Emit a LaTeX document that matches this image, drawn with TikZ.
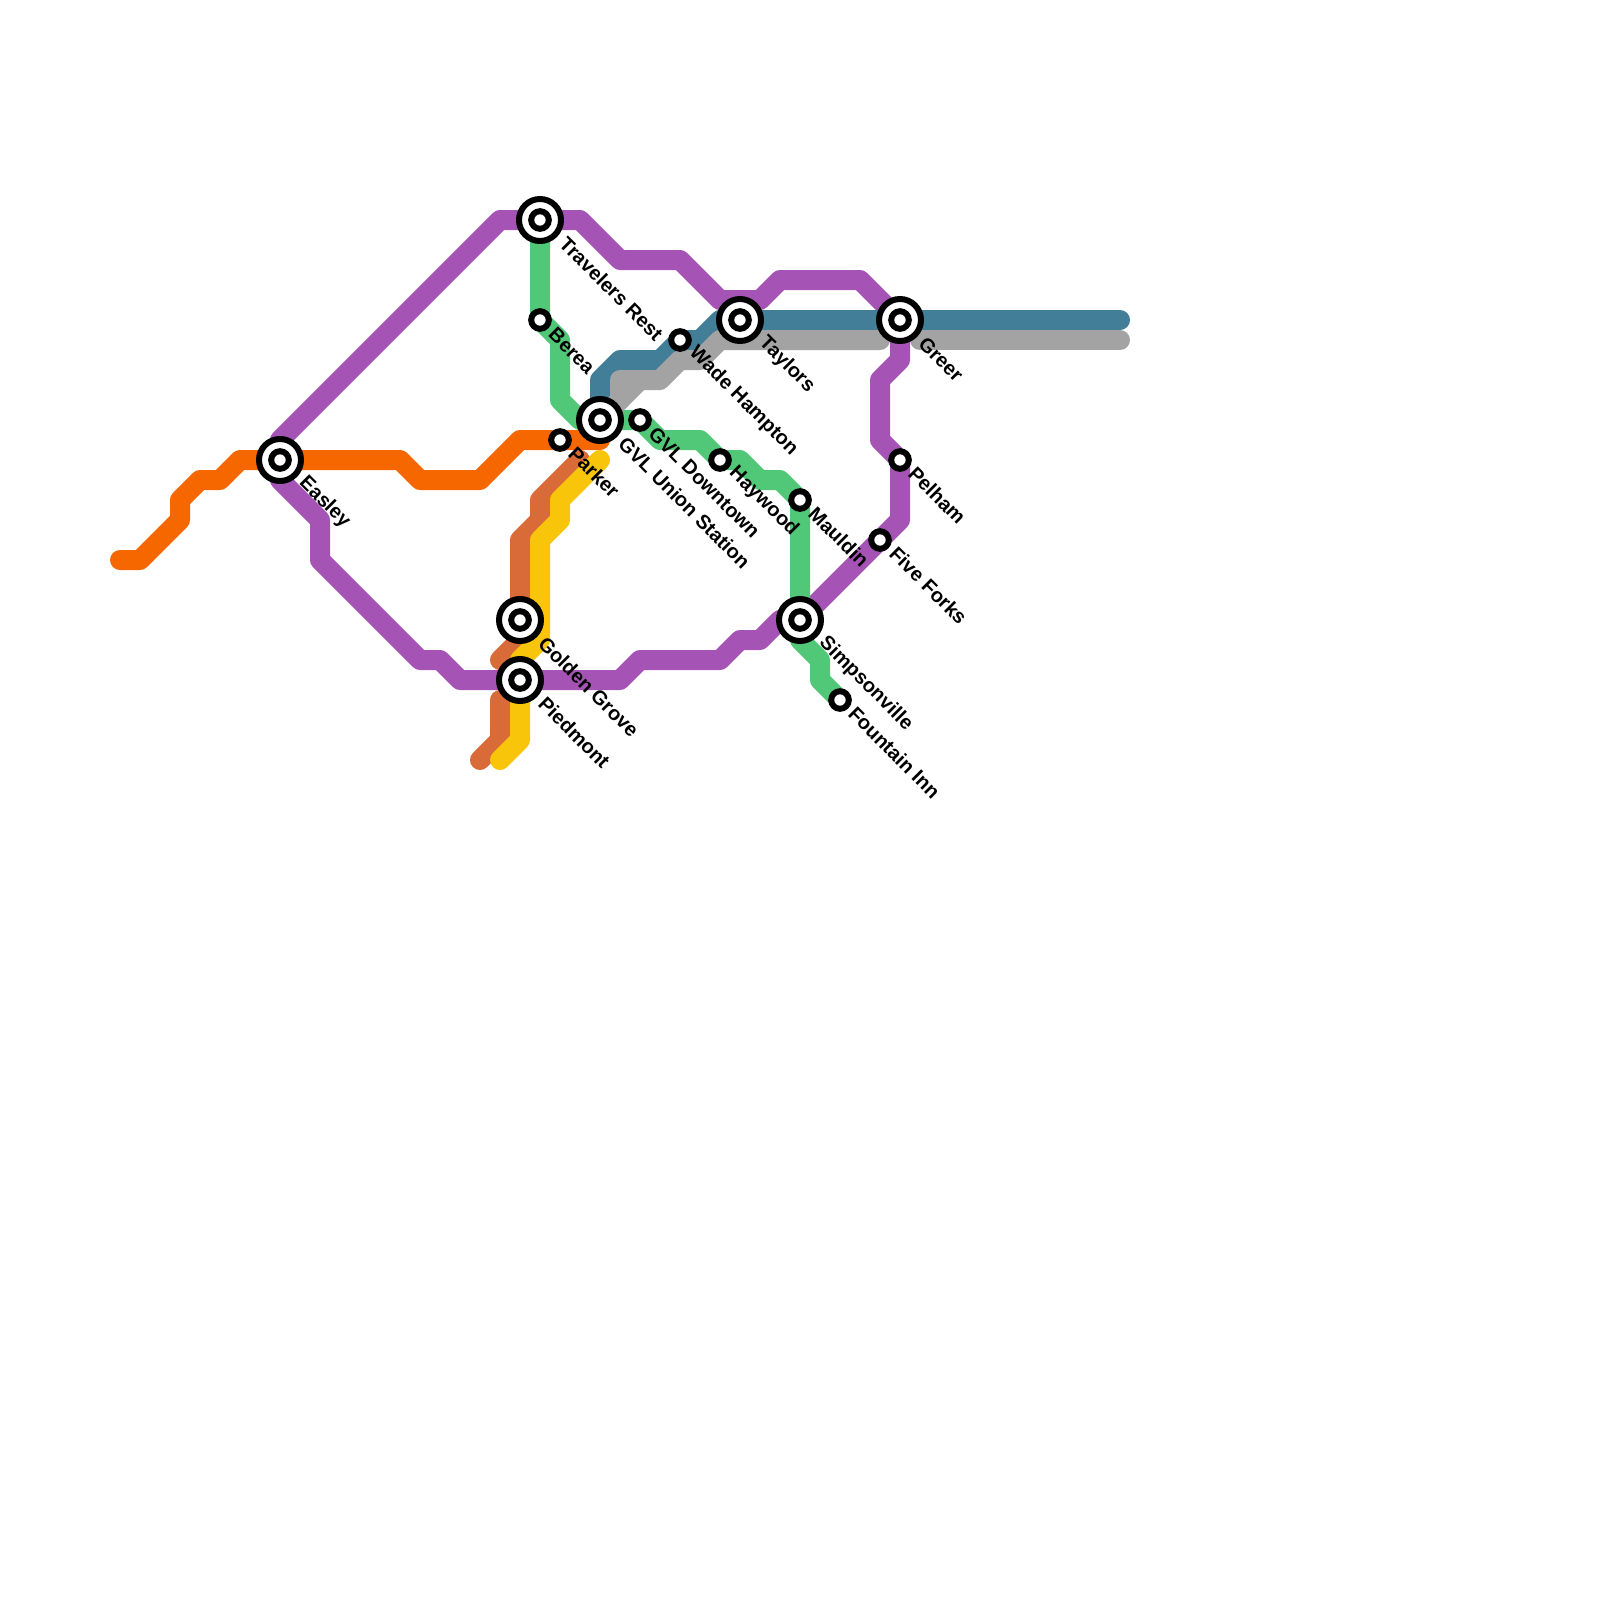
\documentclass[tikz,border=0pt]{standalone}
\usepackage{fontspec}
\setmainfont{Liberation Sans}
\usetikzlibrary{backgrounds}

\definecolor{linepurple}{HTML}{A554B5}
\definecolor{lineorange}{HTML}{F76700}
\definecolor{linegreen}{HTML}{51C878}
\definecolor{lineblue}{HTML}{437E99}
\definecolor{linegrey}{HTML}{A3A3A3}
\definecolor{linebrown}{HTML}{D96B38}
\definecolor{lineyellow}{HTML}{F9C50A}

\newcommand*{\xmin}{0}
\newcommand*{\xmax}{80}
\newcommand*{\ymin}{0}
\newcommand*{\ymax}{80}

\begin{document}
\begin{tikzpicture}
[
	x=0.5cm,y=-0.5cm,
	metroline/.style={line width=0.5cm,line join=round,line cap=round},
	stn/.style={circle,draw=black,fill=white,inner sep=0pt,minimum size=0.44cm,line width=0.15cm},
	bigring/.style={circle,draw=black,fill=white,inner sep=0pt,minimum size=1.05cm,line width=0.15cm},
	stnlabel/.style={rotate=-45,anchor=west,inner sep=0pt,font=\bfseries\fontsize{14.2}{16}\selectfont}
]

	\useasboundingbox (\xmin,\ymin) rectangle (\xmax,\ymax);

	% big stations
	\node[bigring] at (14,23) (easleyring) {};
	\node[stn] at (14,23) (easley) {};
	\node[bigring] at (27,11) (travelersring) {};
	\node[stn] at (27,11) (travelers) {};
	\node[bigring] at (30,21) (unionring) {};
	\node[stn] at (30,21) (union) {};
	\node[bigring] at (37,16) (taylorsring) {};
	\node[stn] at (37,16) (taylors) {};
	\node[bigring] at (45,16) (greerring) {};
	\node[stn] at (45,16) (greer) {};
	\node[bigring] at (40,31) (simpsonring) {};
	\node[stn] at (40,31) (simpson) {};
	\node[bigring] at (26,31) (goldenring) {};
	\node[stn] at (26,31) (golden) {};
	\node[bigring] at (26,34) (piedmontring) {};
	\node[stn] at (26,34) (piedmont) {};

	% small stations
	\node[stn] at (27,16) (berea) {};
	\node[stn] at (28,22) (parker) {};
	\node[stn] at (32,21) (downtown) {};
	\node[stn] at (34,17) (wade) {};
	\node[stn] at (36,23) (haywood) {};
	\node[stn] at (40,25) (mauldin) {};
	\node[stn] at (42,35) (fountain) {};
	\node[stn] at (44,27) (fiveforks) {};
	\node[stn] at (45,23) (pelham) {};

	% line ends
	\coordinate (bluestop) at (56,16);
	\coordinate (greystop) at (56,17);

	% labels
	\node[stnlabel] at (15.1,24) (easleytext) {Easley};
	\node[stnlabel] at (28.15,12) (travelerstext) {Travelers Rest};
	\node[stnlabel] at (31.1,22) (uniontext) {GVL Union Station};
	\node[stnlabel] at (38.1,17) (taylorstext) {Taylors};
	\node[stnlabel] at (46.1,17) (greertext) {Greer};
	\node[stnlabel] at (41.1,32) (simpsontext) {Simpsonville};
	\node[stnlabel] at (27.1,32) (goldentext) {Golden Grove};
	\node[stnlabel] at (27.1,35) (piedmonttext) {Piedmont};
	\node[stnlabel] at (27.6,16.55) (bereatext) {Berea};
	\node[stnlabel] at (28.6,22.5) (parkertext) {Parker};
	\node[stnlabel] at (32.6,21.5) (downtowntext) {GVL Downtown};
	\node[stnlabel] at (34.6,17.5) (wadetext) {Wade Hampton};
	\node[stnlabel] at (36.6,23.5) (haywoodtext) {Haywood};
	\node[stnlabel] at (40.6,25.5) (mauldintext) {Mauldin};
	\node[stnlabel] at (42.6,35.5) (fountaintext) {Fountain Inn};
	\node[stnlabel] at (44.65,27.5) (fiveforkstext) {Five Forks};
	\node[stnlabel] at (45.6,23.5) (pelhamtext) {Pelham};

	% lines
	\begin{pgfonlayer}{background}
		\draw[metroline,linepurple] (easley.center) -- (14,22) -- (25,11) -- (travelers.center) -- (29,11) -- (31,13) -- (34,13) -- (36,15) -- (38,15) -- (39,14) -- (43,14) -- (greer.center) -- (45,18) -- (44,19) -- (44,22) -- (pelham.center) -- (45,26) -- (fiveforks.center) -- (simpson.center) -- (39,31) -- (38,32) -- (37,32) -- (36,33) -- (32,33) -- (31,34) -- (piedmont.center) -- (23,34) -- (22,33) -- (21,33) -- (16,28) -- (16,26) -- (14,24) -- cycle;
		\draw[metroline,lineorange] (6,28) -- (7,28) -- (9,26) -- (9,25) -- (10,24) -- (11,24) -- (12,23) -- (easley.center) -- (20,23) -- (21,24) -- (24,24) -- (26,22) -- (parker.center) -- (30,22);
		\draw[metroline,linebrown] (29,23) -- (27,25) -- (27,26) -- (26,27) -- (golden.center) -- (26,32) -- (25,33);
		\draw[metroline,linebrown] (25,35) -- (25,37) -- (24,38);
		\draw[metroline,lineyellow] (30,23) -- (28,25) -- (28,26) -- (27,27) -- (27,32) -- (26,33) -- (piedmont.center) -- (26,37) -- (25,38);
		\draw[metroline,linegreen] (travelers.center) -- (berea.center) -- (28,17) -- (28,20) -- (29,21) -- (union.center) -- (downtown.center) -- (33,22) -- (35,22) -- (haywood.center) -- (37,23) -- (38,24) -- (39,24) -- (mauldin.center) -- (simpson.center) -- (40,32) -- (41,33) -- (41,34) -- (fountain.center);
		\draw[metroline,lineblue] (union.center) -- (30,19) -- (31,18) -- (33,18) -- (wade.center) -- (35,17) -- (36,16) -- (taylors.center) -- (greer.center) -- (bluestop);
		\draw[metroline,linegrey] (union.center) -- (32,19);
		\draw[metroline,linegrey] (31,20) -- (31,19) -- (33,19) -- (34,18) -- (35,18) -- (36,17) -- (44,17);
		\draw[metroline,linegrey] (46,17) -- (greystop);
	\end{pgfonlayer}

\end{tikzpicture}
\end{document}
